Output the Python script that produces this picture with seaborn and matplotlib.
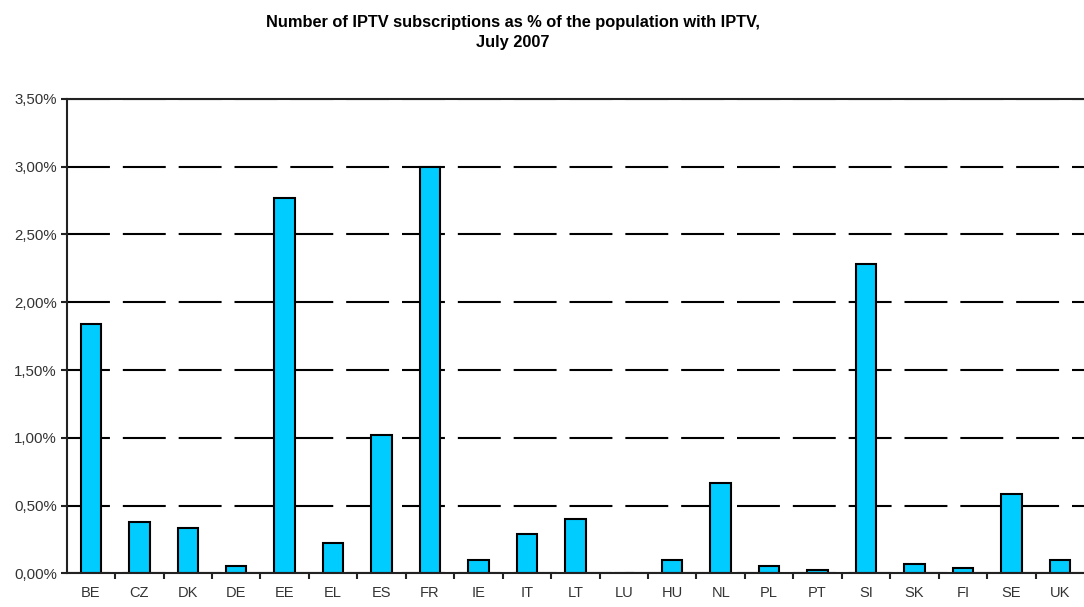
import matplotlib
matplotlib.use("Agg")
import matplotlib.pyplot as plt
import numpy as np
import pandas as pd
import seaborn as sns
from matplotlib.ticker import FuncFormatter, FixedLocator

# IPTV subscriptions as % of population with IPTV, July 2007
countries = ["BE", "CZ", "DK", "DE", "EE", "EL", "ES", "FR", "IE", "IT", "LT",
             "LU", "HU", "NL", "PL", "PT", "SI", "SK", "FI", "SE", "UK"]
share = [1.84, 0.376, 0.337, 0.054, 2.77, 0.22, 1.02, 3.00, 0.096, 0.29, 0.40,
         0.0, 0.096, 0.67, 0.054, 0.027, 2.285, 0.069, 0.04, 0.583, 0.096]
y_ticks = [0.0, 0.5, 1.0, 1.5, 2.0, 2.5, 3.0, 3.5]

BAR_COLOR = "#00CCFF"
TEXT_COLOR = "#333333"

sns.set_style("white")
plt.rcParams["font.family"] = ["Liberation Sans", "DejaVu Sans"]

data = pd.DataFrame({"country": countries, "share": share})

fig = plt.figure(figsize=(10.84, 6.07), dpi=100)
ax = fig.add_axes([0.0615, 0.0555, 0.9385, 0.7815])

sns.barplot(data=data, x="country", y="share", color=BAR_COLOR, saturation=1,
            edgecolor="black", linewidth=1.5, width=0.42, ax=ax, zorder=3)

ax.set_xlim(-0.5, len(countries) - 0.5)
ax.set_ylim(0, 3.5)
ax.set_yticks(y_ticks)
ax.yaxis.set_major_formatter(FuncFormatter(lambda v, p: ("%.2f%%" % v).replace(".", ",")))

# dashed black gridlines, drawn behind bars
ax.yaxis.grid(True, color="black", linewidth=1.5, linestyle=(0, (20.6, 6.2)), zorder=0)
ax.set_axisbelow(True)

for side in ["left", "bottom", "top"]:
    ax.spines[side].set_visible(True)
    ax.spines[side].set_color("#222222")
    ax.spines[side].set_linewidth(1.5)
ax.spines["right"].set_visible(False)
ax.spines["bottom"].set_zorder(4)

# ticks between categories on x axis
ax.xaxis.set_minor_locator(FixedLocator(np.arange(0.5, len(countries) - 0.5, 1)))
ax.tick_params(axis="x", which="major", length=0, pad=9, labelsize=10.5, labelcolor=TEXT_COLOR)
ax.tick_params(axis="x", which="minor", length=4, width=1.5, color="#222222", direction="out")
ax.tick_params(axis="y", which="major", length=4, width=1.5, color="#222222", direction="out",
               labelsize=10.8, labelcolor=TEXT_COLOR, pad=3)
ax.tick_params(bottom=True, left=True, which="both")
ax.set_xlabel("")
ax.set_ylabel("")

fig.text(0.473, 0.946, "Number of IPTV subscriptions as % of the population with IPTV,\nJuly 2007",
         ha="center", va="center", fontsize=11.8, fontweight="bold", linespacing=1.45,
         color="black")

fig.savefig("out.png", dpi=100)
